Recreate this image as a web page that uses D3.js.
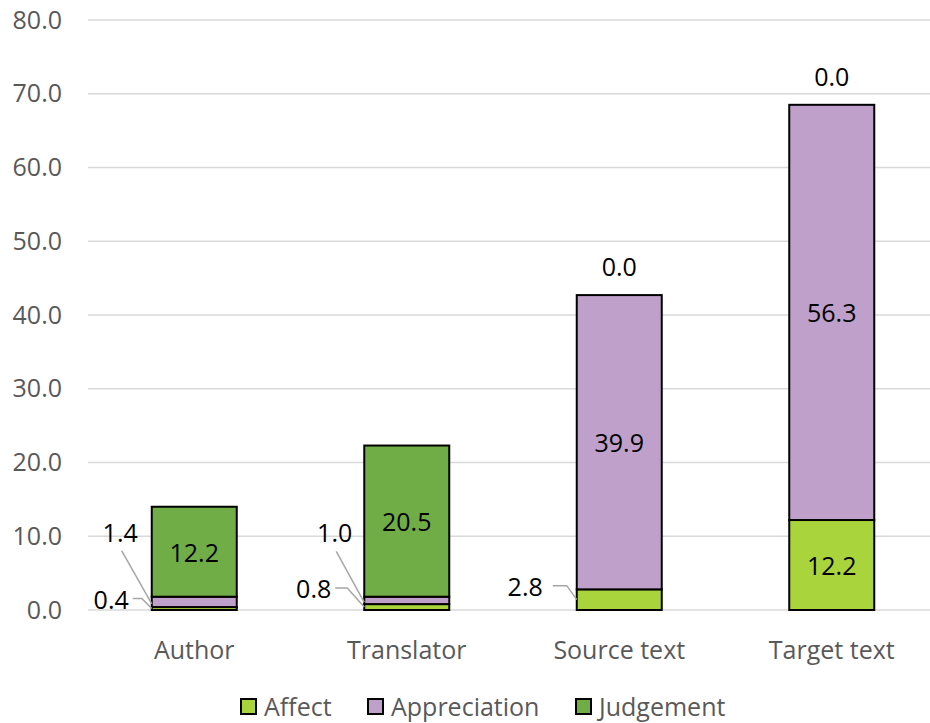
<!DOCTYPE html>
<html>
<head>
<meta charset="utf-8">
<script src="https://cdn.jsdelivr.net/npm/d3@7"></script>
<style>
  html, body { margin: 0; padding: 0; background: #fff; }
  svg { display: block; font-family: "Open Sans", "Noto Sans", sans-serif; }
</style>
</head>
<body>
<svg id="chart" width="930" height="723"></svg>
<script>
// Appraisal categories per source
const categories = ["Author", "Translator", "Source text", "Target text"];
const seriesNames = ["Affect", "Appreciation", "Judgement"];
const affect = [0.4, 0.8, 2.8, 12.2];
const appreciation = [1.4, 1.0, 39.9, 56.3];
const judgement = [12.2, 20.5, 0.0, 0.0];
const yTicks = [0, 10, 20, 30, 40, 50, 60, 70, 80];

const colors = { Affect: "#a9d43b", Appreciation: "#bea0cb", Judgement: "#70ad47" };

const svg = d3.select("#chart");
const fontSize = 25;

const x = d3.scaleBand().domain(categories).range([88, 938]).paddingInner(0.6).paddingOuter(0.3);
const y = d3.scaleLinear().domain([0, 80]).range([610, 20]);

// gridlines
svg.append("g").selectAll("line").data(yTicks).join("line")
  .attr("x1", 88).attr("x2", 930)
  .attr("y1", d => y(d)).attr("y2", d => y(d))
  .attr("stroke", "#d9d9d9").attr("stroke-width", 1.5);

// y axis labels
const yAxis = d3.axisLeft(y).tickValues(yTicks).tickFormat(d3.format(".1f")).tickSize(0).tickPadding(0);
const gy = svg.append("g").attr("transform", "translate(62,0)").call(yAxis);
gy.select(".domain").remove();
gy.selectAll("text").attr("fill", "#595959").style("font-size", fontSize + "px")
  .style("font-family", "'Open Sans', sans-serif");

// x axis labels
const xAxis = d3.axisBottom(x).tickSize(0).tickPadding(0);
const gx = svg.append("g").attr("transform", "translate(0,641)").call(xAxis);
gx.select(".domain").remove();
gx.selectAll("text").attr("fill", "#595959").style("font-size", fontSize + "px")
  .style("font-family", "'Open Sans', sans-serif");

// stacked data
const rows = categories.map((c, i) => ({
  cat: c, Affect: affect[i], Appreciation: appreciation[i], Judgement: judgement[i]
}));
const stacked = d3.stack().keys(seriesNames)(rows);

const barG = svg.append("g");
stacked.forEach(layer => {
  barG.append("g").selectAll("rect").data(layer).join("rect")
    .attr("x", d => x(d.data.cat))
    .attr("width", x.bandwidth())
    .attr("y", d => y(d[1]))
    .attr("height", d => y(d[0]) - y(d[1]))
    .attr("fill", colors[layer.key])
    .attr("stroke", "#000")
    .attr("stroke-width", 2);
});

// value labels
const fmt = d3.format(".1f");
const labelG = svg.append("g").style("font-size", fontSize + "px").attr("fill", "#000");
const leaderG = svg.append("g").attr("fill", "none").attr("stroke", "#a6a6a6").attr("stroke-width", 1.5);

// callouts for segments too thin to hold a label:
// dx/dy place the label's right edge relative to the bar's left edge and segment middle,
// gap/stub describe the leader line's horizontal start and end.
const callouts = {
  "Author|Affect":           { dx: -23, dy: -10, gap: 4,  stub: -10 },
  "Author|Appreciation":     { dx: -14, dy: -70, diag: true },
  "Translator|Affect":       { dx: -33, dy: -19, gap: 4,  stub: -17 },
  "Translator|Appreciation": { dx: -12, dy: -68, diag: true },
  "Source text|Affect":      { dx: -34, dy: -14, gap: 10, stub: -10 }
};

stacked.forEach(layer => {
  layer.forEach(d => {
    const key = d.data.cat + "|" + layer.key;
    const v = d.data[layer.key];
    const x0 = x(d.data.cat);
    const cx = x0 + x.bandwidth() / 2;
    const yTop = y(d[1]), yBot = y(d[0]);
    const ym = (yTop + yBot) / 2;
    if (v === 0) {
      labelG.append("text").attr("x", cx).attr("y", yTop - 29)
        .attr("text-anchor", "middle").attr("dominant-baseline", "central").text(fmt(v));
    } else if (callouts[key]) {
      const c = callouts[key];
      const ex = x0 + c.dx, ly = ym + c.dy;
      labelG.append("text").attr("x", ex).attr("y", ly)
        .attr("text-anchor", "end").attr("dominant-baseline", "central").text(fmt(v));
      if (c.diag) {
        leaderG.append("path").attr("d", `M${ex - 16},${ly + 19} L${x0},${ym + 2}`);
      } else {
        leaderG.append("path").attr("d", `M${ex + c.gap},${ly} H${x0 + c.stub} L${x0},${ym}`);
      }
    } else {
      labelG.append("text").attr("x", cx).attr("y", ym)
        .attr("text-anchor", "middle").attr("dominant-baseline", "central").text(fmt(v));
    }
  });
});

// legend
const legendItems = [
  { name: "Affect", x: 241 },
  { name: "Appreciation", x: 368 },
  { name: "Judgement", x: 576 }
];
const lg = svg.append("g").attr("transform", "translate(0,706)");
legendItems.forEach(it => {
  lg.append("rect").attr("x", it.x).attr("y", -7).attr("width", 15).attr("height", 15)
    .attr("fill", colors[it.name]).attr("stroke", "#000").attr("stroke-width", 2);
  lg.append("text").attr("x", it.x + 23).attr("y", 0).attr("dominant-baseline", "central")
    .attr("fill", "#595959").style("font-size", fontSize + "px").text(it.name);
});
</script>
</body>
</html>
